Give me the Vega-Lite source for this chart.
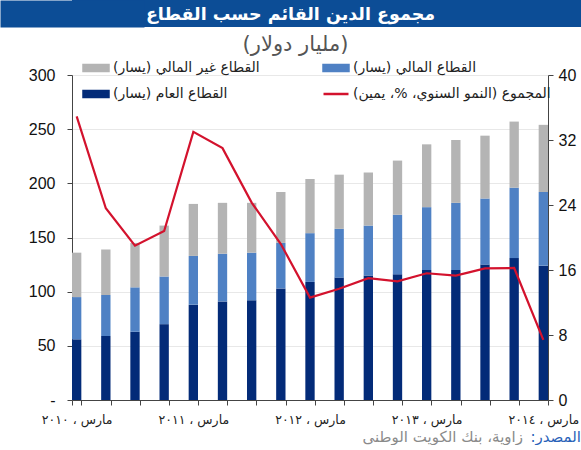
{
  "$schema": "https://vega.github.io/schema/vega-lite/v6.json",
  "padding": 0,
  "background": "white",
  "spacing": 0,
  "config": {
    "view": {"stroke": null},
    "font": "Liberation Sans, DejaVu Sans"
  },
  "datasets": {
    "bars": [
      {"q": "مارس ، ٢٠١٠", "sector": "القطاع العام (يسار)", "value": 56},
      {"q": "مارس ، ٢٠١٠", "sector": "القطاع المالي (يسار)", "value": 39},
      {"q": "مارس ، ٢٠١٠", "sector": "القطاع غير المالي (يسار)", "value": 41},
      {"q": "يونيو ، ٢٠١٠", "sector": "القطاع العام (يسار)", "value": 59},
      {"q": "يونيو ، ٢٠١٠", "sector": "القطاع المالي (يسار)", "value": 38},
      {"q": "يونيو ، ٢٠١٠", "sector": "القطاع غير المالي (يسار)", "value": 42},
      {"q": "سبتمبر ، ٢٠١٠", "sector": "القطاع العام (يسار)", "value": 63},
      {"q": "سبتمبر ، ٢٠١٠", "sector": "القطاع المالي (يسار)", "value": 41},
      {"q": "سبتمبر ، ٢٠١٠", "sector": "القطاع غير المالي (يسار)", "value": 41},
      {"q": "ديسمبر ، ٢٠١٠", "sector": "القطاع العام (يسار)", "value": 70},
      {"q": "ديسمبر ، ٢٠١٠", "sector": "القطاع المالي (يسار)", "value": 44},
      {"q": "ديسمبر ، ٢٠١٠", "sector": "القطاع غير المالي (يسار)", "value": 47},
      {"q": "مارس ، ٢٠١١", "sector": "القطاع العام (يسار)", "value": 88},
      {"q": "مارس ، ٢٠١١", "sector": "القطاع المالي (يسار)", "value": 45},
      {"q": "مارس ، ٢٠١١", "sector": "القطاع غير المالي (يسار)", "value": 48},
      {"q": "يونيو ، ٢٠١١", "sector": "القطاع العام (يسار)", "value": 91},
      {"q": "يونيو ، ٢٠١١", "sector": "القطاع المالي (يسار)", "value": 44},
      {"q": "يونيو ، ٢٠١١", "sector": "القطاع غير المالي (يسار)", "value": 47},
      {"q": "سبتمبر ، ٢٠١١", "sector": "القطاع العام (يسار)", "value": 92},
      {"q": "سبتمبر ، ٢٠١١", "sector": "القطاع المالي (يسار)", "value": 44},
      {"q": "سبتمبر ، ٢٠١١", "sector": "القطاع غير المالي (يسار)", "value": 46},
      {"q": "ديسمبر ، ٢٠١١", "sector": "القطاع العام (يسار)", "value": 103},
      {"q": "ديسمبر ، ٢٠١١", "sector": "القطاع المالي (يسار)", "value": 42},
      {"q": "ديسمبر ، ٢٠١١", "sector": "القطاع غير المالي (يسار)", "value": 47},
      {"q": "مارس ، ٢٠١٢", "sector": "القطاع العام (يسار)", "value": 109},
      {"q": "مارس ، ٢٠١٢", "sector": "القطاع المالي (يسار)", "value": 45},
      {"q": "مارس ، ٢٠١٢", "sector": "القطاع غير المالي (يسار)", "value": 50},
      {"q": "يونيو ، ٢٠١٢", "sector": "القطاع العام (يسار)", "value": 113},
      {"q": "يونيو ، ٢٠١٢", "sector": "القطاع المالي (يسار)", "value": 45},
      {"q": "يونيو ، ٢٠١٢", "sector": "القطاع غير المالي (يسار)", "value": 50},
      {"q": "سبتمبر ، ٢٠١٢", "sector": "القطاع العام (يسار)", "value": 115},
      {"q": "سبتمبر ، ٢٠١٢", "sector": "القطاع المالي (يسار)", "value": 46},
      {"q": "سبتمبر ، ٢٠١٢", "sector": "القطاع غير المالي (يسار)", "value": 49},
      {"q": "ديسمبر ، ٢٠١٢", "sector": "القطاع العام (يسار)", "value": 116},
      {"q": "ديسمبر ، ٢٠١٢", "sector": "القطاع المالي (يسار)", "value": 55},
      {"q": "ديسمبر ، ٢٠١٢", "sector": "القطاع غير المالي (يسار)", "value": 50},
      {"q": "مارس ، ٢٠١٣", "sector": "القطاع العام (يسار)", "value": 120},
      {"q": "مارس ، ٢٠١٣", "sector": "القطاع المالي (يسار)", "value": 58},
      {"q": "مارس ، ٢٠١٣", "sector": "القطاع غير المالي (يسار)", "value": 58},
      {"q": "يونيو ، ٢٠١٣", "sector": "القطاع العام (يسار)", "value": 120},
      {"q": "يونيو ، ٢٠١٣", "sector": "القطاع المالي (يسار)", "value": 62},
      {"q": "يونيو ، ٢٠١٣", "sector": "القطاع غير المالي (يسار)", "value": 58},
      {"q": "سبتمبر ، ٢٠١٣", "sector": "القطاع العام (يسار)", "value": 125},
      {"q": "سبتمبر ، ٢٠١٣", "sector": "القطاع المالي (يسار)", "value": 61},
      {"q": "سبتمبر ، ٢٠١٣", "sector": "القطاع غير المالي (يسار)", "value": 58},
      {"q": "ديسمبر ، ٢٠١٣", "sector": "القطاع العام (يسار)", "value": 131},
      {"q": "ديسمبر ، ٢٠١٣", "sector": "القطاع المالي (يسار)", "value": 65},
      {"q": "ديسمبر ، ٢٠١٣", "sector": "القطاع غير المالي (يسار)", "value": 61},
      {"q": "مارس ، ٢٠١٤", "sector": "القطاع العام (يسار)", "value": 124},
      {"q": "مارس ، ٢٠١٤", "sector": "القطاع المالي (يسار)", "value": 68},
      {"q": "مارس ، ٢٠١٤", "sector": "القطاع غير المالي (يسار)", "value": 62}
    ],
    "growth": [
      {"q": "مارس ، ٢٠١٠", "growth": 34.9},
      {"q": "يونيو ، ٢٠١٠", "growth": 23.6},
      {"q": "سبتمبر ، ٢٠١٠", "growth": 19.0},
      {"q": "ديسمبر ، ٢٠١٠", "growth": 20.8},
      {"q": "مارس ، ٢٠١١", "growth": 33.0},
      {"q": "يونيو ، ٢٠١١", "growth": 31.0},
      {"q": "سبتمبر ، ٢٠١١", "growth": 24.3},
      {"q": "ديسمبر ، ٢٠١١", "growth": 19.2},
      {"q": "مارس ، ٢٠١٢", "growth": 12.6},
      {"q": "يونيو ، ٢٠١٢", "growth": 13.7},
      {"q": "سبتمبر ، ٢٠١٢", "growth": 15.0},
      {"q": "ديسمبر ، ٢٠١٢", "growth": 14.6},
      {"q": "مارس ، ٢٠١٣", "growth": 15.6},
      {"q": "يونيو ، ٢٠١٣", "growth": 15.3},
      {"q": "سبتمبر ، ٢٠١٣", "growth": 16.2},
      {"q": "ديسمبر ، ٢٠١٣", "growth": 16.25},
      {"q": "مارس ، ٢٠١٤", "growth": 7.4}
    ],
    "banner": [{"t": "مجموع الدين القائم حسب القطاع"}],
    "unit": [{"t": "(مليار دولار)"}],
    "source": [{"a": "المصدر:\u200f", "b": "زاوية، بنك الكويت الوطني"}]
  },
  "vconcat": [
    {
      "width": 509,
      "height": 27,
      "view": {"fill": "#0c4d96", "stroke": null},
      "data": {"name": "banner"},
      "mark": {"type": "text", "color": "white", "fontSize": 17.5, "fontWeight": "bold", "font": "DejaVu Sans", "baseline": "middle", "align": "center", "dx": -36, "dy": 1},
      "encoding": {
        "text": {"field": "t"},
        "y": {
          "datum": 0, "type": "quantitative",
          "scale": {"domain": [-1, 1]},
          "axis": {"title": null, "labels": false, "ticks": false, "grid": false, "domain": true, "domainColor": "#0c4d96", "domainWidth": 144, "minExtent": 0, "maxExtent": 0}
        }
      }
    },
    {
      "width": 509,
      "height": 40,
      "data": {"name": "unit"},
      "mark": {"type": "text", "color": "#555555", "fontSize": 21, "font": "DejaVu Sans", "baseline": "middle", "align": "center", "dx": -31, "dy": -2},
      "encoding": {"text": {"field": "t"}}
    },
    {
      "width": 476,
      "height": 325,
      "layer": [
        {
          "data": {"name": "bars"},
          "mark": {"type": "bar"},
          "encoding": {
            "x": {
              "field": "q", "type": "nominal", "sort": null,
              "scale": {"paddingInner": 0.68, "paddingOuter": 0},
              "axis": {
                "title": null, "labelAngle": 0, "tickBand": "extent", "ticks": true, "tickSize": 5,
                "tickColor": "#444444", "domainColor": "#444444", "labelFontSize": 12.5, "labelColor": "#222222",
                "labelPadding": 8, "labelFont": "DejaVu Sans",
                "labelExpr": "indexof(datum.label, 'مارس') === 0 ? datum.label : ''"
              }
            },
            "y": {
              "field": "value", "type": "quantitative", "aggregate": "sum", "stack": "zero",
              "scale": {"domain": [0, 300]},
              "axis": {
                "title": null, "orient": "left", "values": [0, 50, 100, 150, 200, 250, 300],
                "grid": true, "gridColor": "#e8e8e8", "domainColor": "#444444", "tickColor": "#444444",
                "tickSize": 5, "labelPadding": 12, "labelFontSize": 16, "labelColor": "#111111",
                "labelFont": "Liberation Sans", "minExtent": 72,
                "labelExpr": "datum.value === 0 ? '-\u00a0\u00a0' : datum.label"
              }
            },
            "color": {
              "field": "sector", "type": "nominal",
              "scale": {
                "domain": ["القطاع غير المالي (يسار)", "القطاع العام (يسار)", "القطاع المالي (يسار)", "المجموع (النمو السنوي، %، يمين)"],
                "range": ["#b4b4b4", "#032b78", "#4f81c4", "#d3122d"]
              },
              "legend": {
                "title": null, "orient": "none", "legendX": 10, "legendY": 54, "columns": 2,
                "symbolSize": 625, "symbolType": "M-1,-0.24H1V0.24H-1Z",
                "labelFontSize": 14, "labelColor": "#222222", "labelFont": "DejaVu Sans", "labelLimit": 300,
                "columnPadding": 58, "rowPadding": 4, "labelOffset": 3,
                "encode": {
                  "symbols": {
                    "update": {
                      "shape": {"signal": "indexof(datum.value, 'المجموع') === 0 ? 'M-1,0H1' : 'M-1,-0.24H1V0.24H-1Z'"},
                      "fill": {"signal": "indexof(datum.value, 'المجموع') === 0 ? 'transparent' : scale('color', datum.value)"},
                      "stroke": {"signal": "indexof(datum.value, 'المجموع') === 0 ? scale('color', datum.value) : 'transparent'"},
                      "strokeWidth": {"value": 2.5},
                      "opacity": {"value": 1}
                    }
                  }
                }
              }
            },
            "order": {"field": "sector", "sort": "ascending"}
          }
        },
        {
          "data": {"name": "growth"},
          "mark": {"type": "line", "strokeWidth": 2.2},
          "encoding": {
            "x": {"field": "q", "type": "nominal", "sort": null},
            "y": {
              "field": "growth", "type": "quantitative",
              "scale": {"domain": [0, 40]},
              "axis": {
                "title": null, "orient": "right", "values": [0, 8, 16, 24, 32, 40], "grid": false,
                "domainColor": "#444444", "tickColor": "#444444", "tickSize": 5, "labelPadding": 5,
                "labelFontSize": 16, "labelColor": "#111111", "labelFont": "Liberation Sans"
              }
            },
            "color": {"datum": "المجموع (النمو السنوي، %، يمين)"}
          }
        }
      ],
      "resolve": {"scale": {"y": "independent"}, "axis": {"y": "independent"}}
    },
    {
      "width": 509,
      "height": 12,
      "data": {"name": "source"},
      "layer": [
        {
          "mark": {"type": "text", "color": "#2a62b8", "fontSize": 15, "font": "DejaVu Sans", "align": "right", "baseline": "middle", "dy": 5},
          "encoding": {"text": {"field": "a"}, "x": {"value": "width"}}
        },
        {
          "mark": {"type": "text", "color": "#8a8a8a", "fontSize": 15, "font": "DejaVu Sans", "align": "right", "baseline": "middle", "dx": -58, "dy": 5},
          "encoding": {"text": {"field": "b"}, "x": {"value": "width"}}
        }
      ]
    }
  ]
}
